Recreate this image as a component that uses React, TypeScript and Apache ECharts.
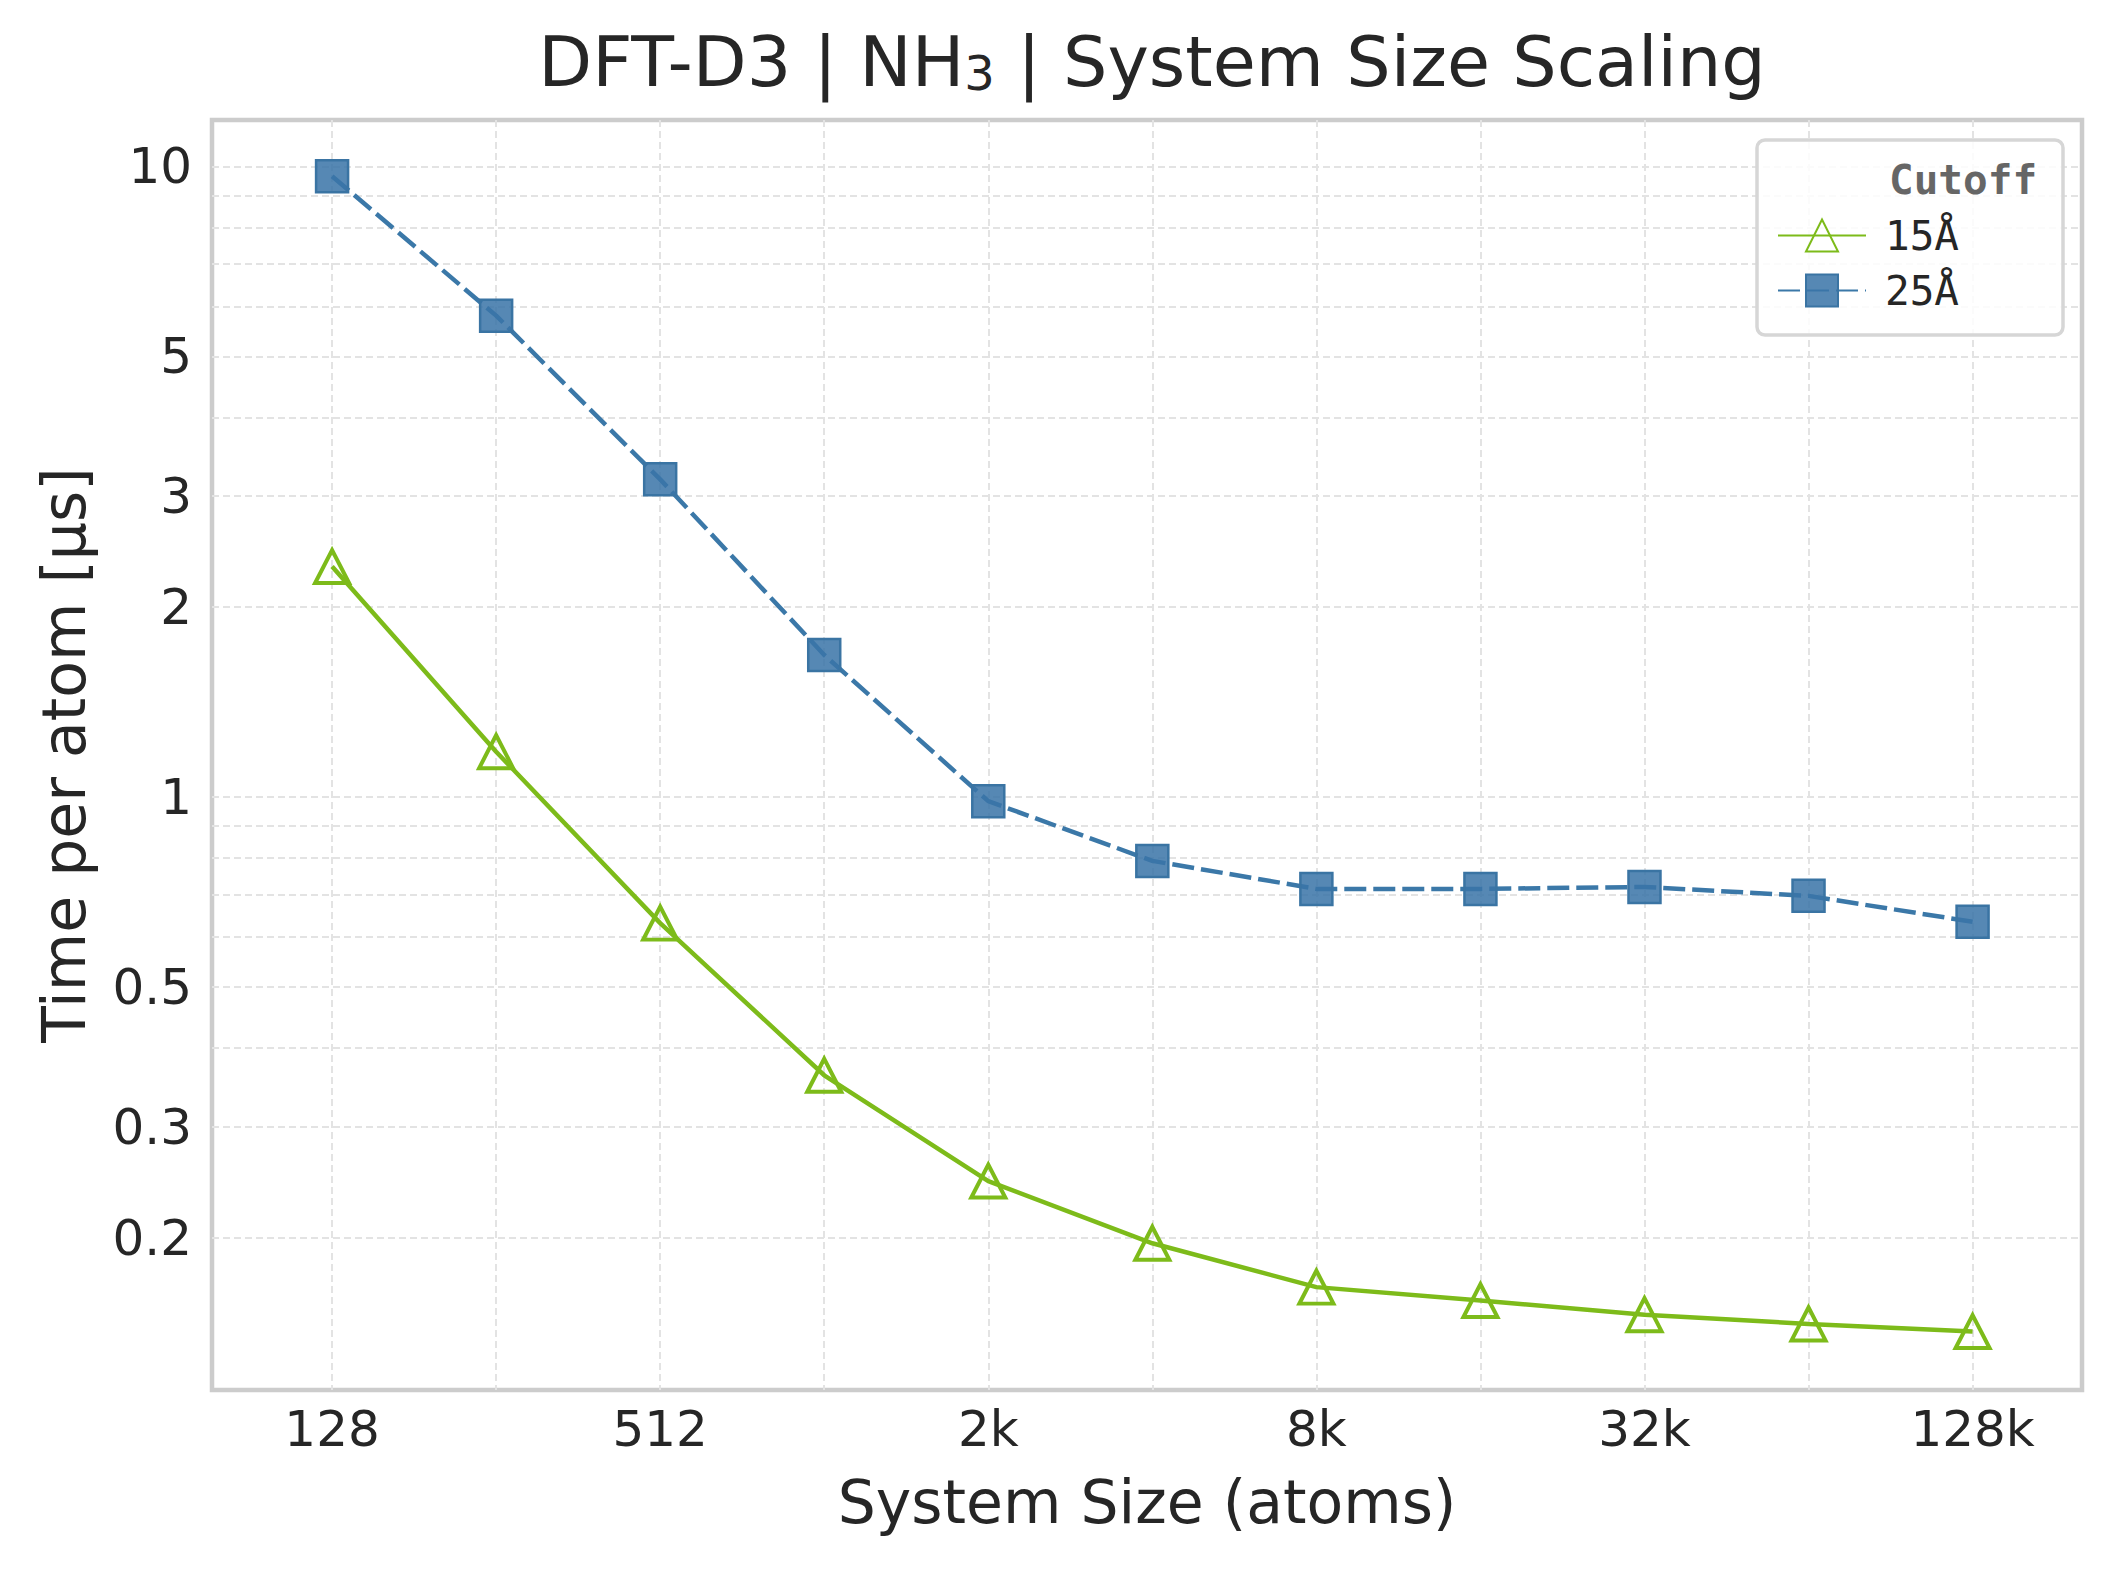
import React, { useEffect, useRef } from 'react';
import * as echarts from 'echarts';

// system sizes (atoms), one point per power of two
const systemSizes = [128, 256, 512, 1024, 2048, 4096, 8192, 16384, 32768, 65536, 131072];
// time per atom [µs]
const cutoff15 = [2.32, 1.18, 0.631, 0.362, 0.246, 0.196, 0.167, 0.159, 0.151, 0.146, 0.142];
const cutoff25 = [9.65, 5.8, 3.19, 1.68, 0.985, 0.792, 0.715, 0.715, 0.72, 0.697, 0.634];
const seriesNames = ['15Å', '25Å'];

// gridlines and tick labels
const yGridValues = [0.2, 0.3, 0.4, 0.5, 0.6, 0.7, 0.8, 0.9, 1, 2, 3, 4, 5, 6, 7, 8, 9, 10];
const yLabelValues = [0.2, 0.3, 0.5, 1, 2, 3, 5, 10];
const xLabelSizes = [128, 512, 2048, 8192, 32768, 131072];

const GREEN = '#7dbb1a';
const BLUE = '#3b78a8';
const TEXT = '#262626';
const FONT = '"DejaVu Sans", sans-serif';
const MONO = '"DejaVu Sans Mono", monospace';

const fmtSize = (v: number) => {
  const n = Math.round(Math.pow(2, v));
  return n >= 1024 ? n / 1024 + 'k' : String(n);
};
const fmtTime = (v: number) => String(parseFloat(Math.pow(10, v).toPrecision(2)));

const App = () => {
  const chartRef = useRef<HTMLDivElement>(null);

  useEffect(() => {
    const chart = echarts.init(chartRef.current, null, { renderer: 'svg' });

    const toPoints = (vals: number[]) =>
      vals.map((v, i) => [Math.log2(systemSizes[i]), Math.log10(v)]);

    const gridLine = {
      show: true,
      lineStyle: { color: '#e3e3e3', width: 2, type: [7, 4] },
    };

    const options = {
      animation: false,
      backgroundColor: '#ffffff',
      title: {
        text: 'DFT-D3 | NH{sub|3} | System Size Scaling',
        left: 1147,
        top: 22,
        textAlign: 'center',
        textStyle: {
          fontFamily: FONT,
          fontSize: 70,
          lineHeight: 70,
          fontWeight: 'normal',
          color: TEXT,
          rich: {
            sub: { fontFamily: FONT, fontSize: 48, lineHeight: 36, verticalAlign: 'bottom', color: TEXT },
          },
        },
      },
      grid: {
        left: 212,
        right: 36,
        top: 120,
        bottom: 180,
        show: true,
        borderColor: '#cccccc',
        borderWidth: 4.5,
        containLabel: false,
        outerBoundsMode: 'none',
      },
      xAxis: {
        type: 'value',
        min: Math.log2(128) - 0.732,
        max: Math.log2(131072) + 0.667,
        name: 'System Size (atoms)',
        nameLocation: 'middle',
        nameGap: 82,
        nameTextStyle: { fontFamily: FONT, fontSize: 60, color: TEXT },
        axisLine: { show: false },
        axisTick: { show: false, customValues: systemSizes.map((s) => Math.log2(s)) },
        axisLabel: {
          customValues: xLabelSizes.map((s) => Math.log2(s)),
          formatter: fmtSize,
          margin: 14,
          fontFamily: FONT,
          fontSize: 50,
          color: TEXT,
        },
        splitLine: gridLine,
      },
      yAxis: {
        type: 'value',
        min: Math.log10(0.1147),
        max: Math.log10(11.85),
        name: 'Time per atom [µs]',
        nameLocation: 'middle',
        nameGap: 118,
        nameTextStyle: { fontFamily: FONT, fontSize: 60, color: TEXT },
        axisLine: { show: false },
        axisTick: { show: false, customValues: yGridValues.map((v) => Math.log10(v)) },
        axisLabel: {
          customValues: yLabelValues.map((v) => Math.log10(v)),
          formatter: fmtTime,
          margin: 20,
          fontFamily: FONT,
          fontSize: 50,
          color: TEXT,
        },
        splitLine: gridLine,
      },
      legend: {
        data: seriesNames,
        orient: 'vertical',
        left: 1777,
        top: 215,
        padding: 0,
        itemWidth: 88,
        itemHeight: 40,
        itemGap: 14,
        textStyle: { fontFamily: MONO, fontSize: 41, color: TEXT, padding: [0, 0, 0, 14] },
      },
      graphic: [
        {
          type: 'rect',
          z: 3,
          shape: { x: 1757, y: 140, width: 306, height: 195, r: 8 },
          style: { fill: 'rgba(255,255,255,0.85)', stroke: '#d6d6d6', lineWidth: 3.5 },
        },
        {
          type: 'text',
          z: 5,
          x: 1889,
          y: 180,
          style: {
            text: 'Cutoff',
            font: `bold 41px ${MONO}`,
            fill: '#666666',
            verticalAlign: 'middle',
          },
        },
      ],
      series: [
        {
          name: seriesNames[0],
          type: 'line',
          data: toPoints(cutoff15),
          symbol: 'triangle',
          symbolSize: [34, 33],
          itemStyle: { color: 'rgba(0,0,0,0)', borderColor: GREEN, borderWidth: 4 },
          lineStyle: { color: GREEN, width: 4.5 },
        },
        {
          name: seriesNames[1],
          type: 'line',
          data: toPoints(cutoff25),
          symbol: 'rect',
          symbolSize: 32,
          itemStyle: { color: 'rgba(58,117,168,0.86)', borderColor: '#3a74a3', borderWidth: 2.5 },
          lineStyle: { color: BLUE, width: 4.5, type: [22, 7] },
        },
      ],
    };

    chart.setOption(options);

    return () => {
      chart.dispose();
    };
  }, []);

  return (
    <div
      ref={chartRef}
      style={{ position: 'absolute', left: 0, top: 0, width: '2118px', height: '1570px' }}
    ></div>
  );
};

export default App;
